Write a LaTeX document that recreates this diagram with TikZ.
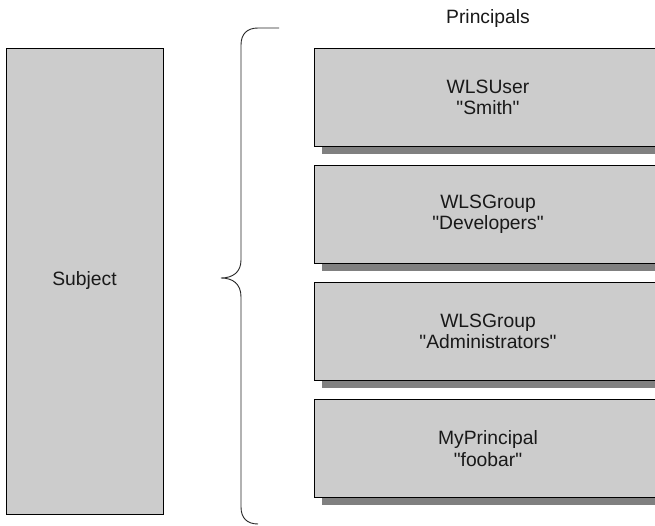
\documentclass[tikz,border=0pt]{standalone}
\usepackage{fontspec}
\setmainfont{Liberation Sans}[Ligatures=TeXOff]
\usetikzlibrary{shadows}
\definecolor{boxgray}{HTML}{CCCCCC}
\definecolor{shadowgray}{HTML}{808080}
\begin{document}
\begin{tikzpicture}[x=1pt,y=-1pt,
  lbl/.style={font=\fontsize{19.3}{21.7}\selectfont, text=black!90, align=center, inner sep=0pt},
  subjbox/.style={lbl, draw=black, line width=0.9pt, fill=boxgray, minimum width=157pt, minimum height=466pt},
  princbox/.style={lbl, draw=black, line width=0.9pt, fill=boxgray, minimum width=348pt, minimum height=98.5pt,
     drop shadow={shadow xshift=7.5pt, shadow yshift=-7.5pt, fill=shadowgray, opacity=1}},
  bracestyle/.style={draw=black!85, line width=0.9pt}]
\useasboundingbox (0,0) rectangle (655,526);
\clip (0,0) rectangle (655,526);
\fill[white] (0,0) rectangle (655,526);
\node[subjbox] (subject) at (84.5,281) {Subject};
\node[lbl] (principals) at (488,18.5) {Principals};
\node[princbox] (p1) at (488,97.25) {WLSUser\\"Smith"};
\node[princbox] (p2) at (488,214.25) {WLSGroup\\"Developers"};
\node[princbox] (p3) at (488,331.25) {WLSGroup\\"Administrators"};
\node[princbox] (p4) at (488,448.25) {MyPrincipal\\"foobar"};
% brace
\draw[bracestyle] (279,28) -- (258,28) .. controls (247,28) and (241,34) .. (241,45)
  -- (241,260) .. controls (241,272) and (233,278) .. (221,278)
  .. controls (233,278) and (241,284) .. (241,297)
  -- (241,507) .. controls (241,518) and (247,524) .. (258,524);
\end{tikzpicture}
\end{document}
